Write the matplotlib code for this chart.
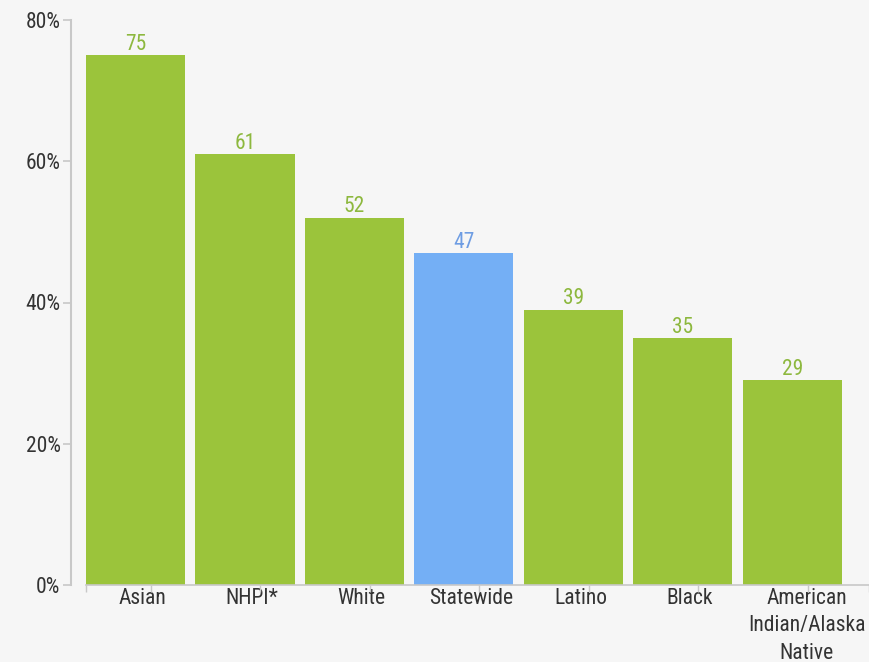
import matplotlib
matplotlib.use("Agg")
import matplotlib.pyplot as plt
from matplotlib import font_manager

categories = ["Asian", "NHPI*", "White", "Statewide", "Latino", "Black", "American\nIndian/Alaska\nNative"]
values = [75, 61, 52, 47, 39, 35, 29]
highlight = "Statewide"
yticks = [0, 20, 40, 60, 80]

names = {f.name for f in font_manager.fontManager.ttflist}
fam = [f for f in ["Roboto Condensed", "Liberation Sans Narrow", "Roboto"] if f in names] + ["DejaVu Sans"]
plt.rcParams['font.family'] = fam

bg = "#f6f6f6"
green = "#9bc43b"
blue = "#74aff5"
green_txt = "#8db83e"
blue_txt = "#6e9de3"
txt = "#333333"
axcol = "#c8c8c8"
fs = 15.5

fig = plt.figure(figsize=(8.69, 6.62), dpi=100, facecolor=bg)
ax = fig.add_axes([86/869, 77/662, 1 - 86/869, 565/662], facecolor=bg)

x = list(range(len(categories)))
colors = [blue if c == highlight else green for c in categories]
ax.bar(x, values, width=0.905, color=colors)
for xi, v, c in zip(x, values, categories):
    ax.text(xi, v + 0.75, str(v), ha="center", va="baseline", fontsize=fs,
            color=blue_txt if c == highlight else green_txt)

ax.set_xlim(-0.4525, 6.70)
ax.set_ylim(0, 80)
ax.set_yticks(yticks)
ax.set_yticklabels([f"{t}%" for t in yticks])
# category labels sit slightly right of bar centres, as in the original
ax.set_xticks([i + 0.065 for i in x[:-1]] + [x[-1] + 0.13])
ax.set_xticklabels(categories, linespacing=1.4)
ax.tick_params(axis="x", length=0, pad=2, labelsize=fs, labelcolor=txt)
ax.tick_params(axis="y", length=5.5, width=1.2, color=axcol, pad=2, labelsize=fs, labelcolor=txt)
# small boundary ticks on the x axis
ax.set_xticks([-0.4525] + [i + 0.14 for i in x] + [6.70], minor=True)
ax.tick_params(axis="x", which="minor", length=5, width=1.0, color=axcol)

for s in ["top", "right"]:
    ax.spines[s].set_visible(False)
ax.spines["left"].set_position(("outward", 10.8))
ax.spines["left"].set_color(axcol)
ax.spines["left"].set_linewidth(1.5)
ax.spines["bottom"].set_color(axcol)
ax.spines["bottom"].set_linewidth(1.2)

fig.savefig("out.png", dpi=100, facecolor=bg)
